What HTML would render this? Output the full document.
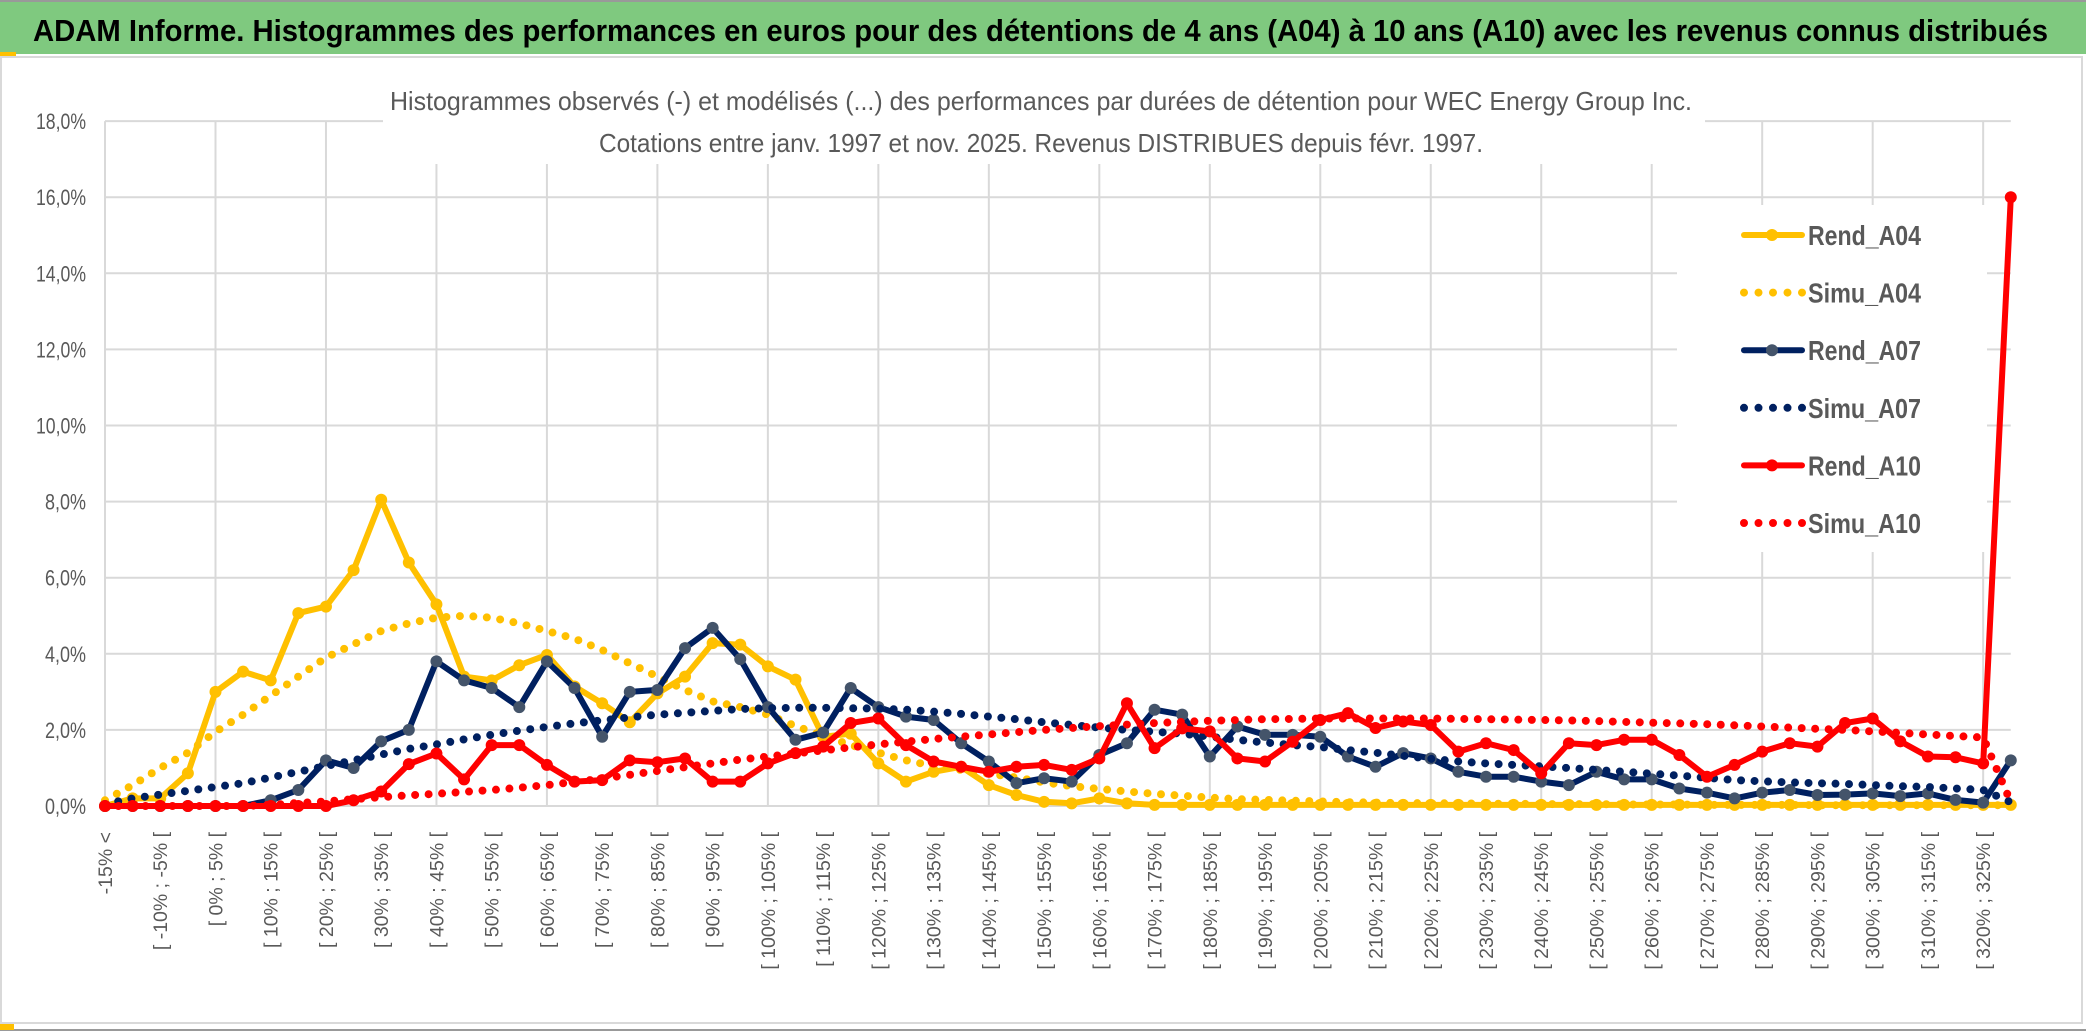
<!DOCTYPE html>
<html><head><meta charset="utf-8"><style>
html,body{margin:0;padding:0;background:#fff;}
svg{display:block;font-family:"Liberation Sans",sans-serif;}
</style></head><body>
<svg id="chart" width="2086" height="1033" viewBox="0 0 2086 1033" xmlns="http://www.w3.org/2000/svg">
  <rect x="0" y="0" width="2086" height="1033" fill="#ffffff"/>
  <rect x="0" y="2" width="2086" height="52" fill="#7fc97f"/>
  <line x1="0" y1="1" x2="2086" y2="1" stroke="#999" stroke-width="2"/>
  <rect x="0" y="52" width="16" height="4" fill="#ffc000"/>
  <text x="33" y="41" font-size="31" font-weight="bold" fill="#000" textLength="2015" lengthAdjust="spacingAndGlyphs">ADAM Informe. Histogrammes des performances en euros pour des détentions de 4 ans (A04) à 10 ans (A10) avec les revenus connus distribués</text>
  <rect x="1" y="57" width="2081" height="966" fill="none" stroke="#d9d9d9" stroke-width="2"/>
  <line x1="0" y1="1030" x2="2086" y2="1030" stroke="#999" stroke-width="2"/>
  <rect x="0" y="1024" width="14" height="6" fill="#ffc000"/>
  <g id="grid"></g>
  <g id="yaxis"></g>
  <g id="xaxis"></g>
  <rect x="383" y="100" width="1322" height="64" fill="#fff"/>
  <text x="390" y="110" font-size="26" fill="#595959" textLength="1302" lengthAdjust="spacingAndGlyphs">Histogrammes observés (-) et modélisés (...) des performances par durées de détention pour WEC Energy Group Inc.</text>
  <text x="599" y="152" font-size="26" fill="#595959" textLength="884" lengthAdjust="spacingAndGlyphs">Cotations entre janv. 1997 et nov. 2025. Revenus DISTRIBUES depuis févr. 1997.</text>
  <rect x="1677" y="205" width="310" height="347" fill="#fff"/>
  <g id="series"></g>
  <g id="legend"></g>
</svg>
<script>
const categories = (function(){ const c=["-15% <"]; for(let a=-15;a<325;a+=5){c.push("[ "+a+"% ; "+(a+5)+"% [");} c.push("325% <"); return c; })();
const yTicks = [0,2,4,6,8,10,12,14,16,18];
const yTickLabels = ["0,0%","2,0%","4,0%","6,0%","8,0%","10,0%","12,0%","14,0%","16,0%","18,0%"];
const rendA04 = [0,0.2,0.2,0.86,3.0,3.53,3.3,5.07,5.24,6.2,8.05,6.4,5.3,3.4,3.3,3.7,3.97,3.14,2.7,2.2,2.96,3.4,4.28,4.24,3.67,3.32,1.82,1.9,1.12,0.64,0.9,1.03,0.55,0.29,0.11,0.07,0.2,0.07,0.03,0.03,0.03,0.03,0.03,0.03,0.03,0.03,0.03,0.03,0.03,0.03,0.03,0.03,0.03,0.03,0.03,0.03,0.03,0.03,0.03,0.03,0.03,0.03,0.03,0.03,0.03,0.03,0.03,0.03,0.03,0.03];
const simuA04 = [0.15,0.55,1.0,1.4,1.95,2.4,2.9,3.4,3.9,4.25,4.6,4.8,4.95,5.0,4.95,4.8,4.6,4.4,4.1,3.75,3.4,3.05,2.75,2.6,2.4,2.1,1.85,1.6,1.4,1.2,1.05,0.95,0.85,0.75,0.62,0.52,0.45,0.38,0.32,0.27,0.22,0.18,0.16,0.14,0.12,0.1,0.09,0.08,0.07,0.07,0.06,0.06,0.05,0.05,0.05,0.04,0.04,0.04,0.03,0.03,0.03,0.03,0.02,0.02,0.02,0.02,0.02,0.02,0.02,0.02];
const rendA07 = [0,0,0,0,0,0,0.15,0.42,1.2,1.0,1.7,2.0,3.8,3.3,3.1,2.6,3.8,3.1,1.82,3.0,3.05,4.15,4.68,3.86,2.6,1.74,1.93,3.1,2.6,2.35,2.26,1.65,1.17,0.6,0.73,0.64,1.34,1.65,2.53,2.4,1.3,2.09,1.87,1.87,1.82,1.3,1.03,1.39,1.25,0.9,0.77,0.77,0.64,0.55,0.9,0.7,0.7,0.46,0.35,0.2,0.35,0.42,0.29,0.3,0.33,0.26,0.33,0.16,0.09,1.2];
const simuA07 = [0.05,0.2,0.3,0.4,0.5,0.6,0.75,0.9,1.05,1.2,1.35,1.5,1.62,1.75,1.87,1.98,2.08,2.17,2.25,2.33,2.4,2.45,2.5,2.55,2.57,2.58,2.58,2.57,2.56,2.53,2.48,2.42,2.35,2.28,2.2,2.13,2.06,2.0,1.95,1.9,1.82,1.74,1.67,1.6,1.55,1.47,1.4,1.32,1.24,1.17,1.12,1.08,1.04,1.0,0.95,0.9,0.85,0.8,0.74,0.68,0.65,0.62,0.6,0.58,0.55,0.52,0.5,0.46,0.42,0.1];
const rendA10 = [0,0,0,0,0,0,0,0,0,0.15,0.38,1.1,1.38,0.7,1.6,1.6,1.08,0.64,0.68,1.2,1.15,1.25,0.64,0.64,1.12,1.39,1.56,2.18,2.3,1.6,1.17,1.03,0.9,1.03,1.08,0.95,1.25,2.7,1.52,2.04,1.96,1.25,1.17,1.69,2.26,2.44,2.05,2.22,2.13,1.43,1.65,1.47,0.86,1.65,1.6,1.74,1.74,1.34,0.77,1.08,1.43,1.65,1.56,2.18,2.3,1.7,1.3,1.28,1.12,16.0];
const simuA10 = [0,0,0,0,0,0,0.03,0.08,0.12,0.18,0.23,0.28,0.32,0.37,0.42,0.48,0.55,0.63,0.72,0.82,0.92,1.02,1.12,1.22,1.3,1.38,1.46,1.54,1.62,1.69,1.76,1.82,1.88,1.94,2.0,2.05,2.1,2.14,2.18,2.21,2.24,2.26,2.28,2.29,2.3,2.3,2.3,2.3,2.3,2.29,2.28,2.27,2.26,2.25,2.23,2.21,2.19,2.17,2.15,2.12,2.09,2.06,2.03,2.0,1.96,1.92,1.88,1.84,1.8,0.1];
const seriesNames = ["Rend_A04","Simu_A04","Rend_A07","Simu_A07","Rend_A10","Simu_A10"];

const NS="http://www.w3.org/2000/svg";
const X0=105, XSTEP=27.62, Y0=806, YPER=38.05;
function xs(i){return X0+i*XSTEP;}
function ys(v){return Y0-v*YPER;}
function mk(tag,attrs,parent){const e=document.createElementNS(NS,tag);for(const k in attrs)e.setAttribute(k,attrs[k]);parent.appendChild(e);return e;}

const grid=document.getElementById('grid');
const yaxis=document.getElementById('yaxis');
const xaxis=document.getElementById('xaxis');
const xEnd=xs(categories.length-1);
yTicks.forEach((t,k)=>{
  const gl=mk('line',{x1:X0,y1:ys(t),x2:xEnd,y2:ys(t),stroke:'#d9d9d9','stroke-width':2},grid);
  
  
  const lbl=yTickLabels[k];
  const tx=mk('text',{x:86,y:ys(t)+8,'font-size':22,fill:'#595959','text-anchor':'end',textLength:lbl.length>4?50:41,lengthAdjust:'spacingAndGlyphs'},yaxis);
  tx.textContent=lbl;
  
  
});
for(let i=0;i<categories.length;i+=4){
  const gl=mk('line',{x1:xs(i),y1:ys(18),x2:xs(i),y2:Y0,stroke:'#d9d9d9','stroke-width':2},grid);
  
  
}
for(let i=0;i<categories.length-1;i+=2){
  const x=xs(i)+7, y=832;
  const tx=mk('text',{x:x,y:y,'font-size':19.5,fill:'#595959','text-anchor':'end',transform:'rotate(-90 '+x+' '+y+')'},xaxis);
  tx.textContent=categories[i];
  
  
}

const sg=document.getElementById('series');
function path(vals){return vals.map((v,i)=>(i?'L':'M')+xs(i).toFixed(1)+' '+ys(v).toFixed(1)).join(' ');}
function solid(vals,color,mcolor,name){
  const g=mk('g',{},sg);
  
  
  mk('path',{d:path(vals),fill:'none',stroke:color,'stroke-width':6,'stroke-linejoin':'round','stroke-linecap':'round'},g);
  vals.forEach((v,i)=>{
    const c=mk('circle',{cx:xs(i),cy:ys(v),r:6,fill:mcolor},g);
    
    
  });
}
function dotted(vals,color,name){
  const p=mk('path',{d:path(vals),fill:'none',stroke:color,'stroke-width':8,'stroke-dasharray':'0 13.5','stroke-linecap':'round','stroke-linejoin':'round'},sg);
  
  
}
solid(rendA04,'#ffc000','#ffc000','rend-a04-line');
dotted(simuA04,'#ffc000','simu-a04-line');
solid(rendA07,'#002060','#44546a','rend-a07-line');
dotted(simuA07,'#002060','simu-a07-line');
solid(rendA10,'#ff0000','#ff0000','rend-a10-line');
dotted(simuA10,'#ff0000','simu-a10-line');

const lg=document.getElementById('legend');
const legColors=['#ffc000','#ffc000','#002060','#002060','#ff0000','#ff0000'];
const legMarker=['#ffc000',null,'#44546a',null,'#ff0000',null];
seriesNames.forEach((n,k)=>{
  const y=235+k*57.6;
  const g=mk('g',{},lg);
  
  
  if(legMarker[k]){
    mk('line',{x1:1744,y1:y,x2:1802,y2:y,stroke:legColors[k],'stroke-width':6,'stroke-linecap':'round'},g);
    mk('circle',{cx:1772,cy:y,r:6,fill:legMarker[k]},g);
  } else {
    mk('line',{x1:1744,y1:y,x2:1803,y2:y,stroke:legColors[k],'stroke-width':8,'stroke-dasharray':'0 14.5','stroke-linecap':'round'},g);
  }
  const t=mk('text',{x:1808,y:y+10,'font-size':28,'font-weight':'bold',fill:'#595959',textLength:113,lengthAdjust:'spacingAndGlyphs'},g);
  t.textContent=n;
});
</script>
</body></html>
